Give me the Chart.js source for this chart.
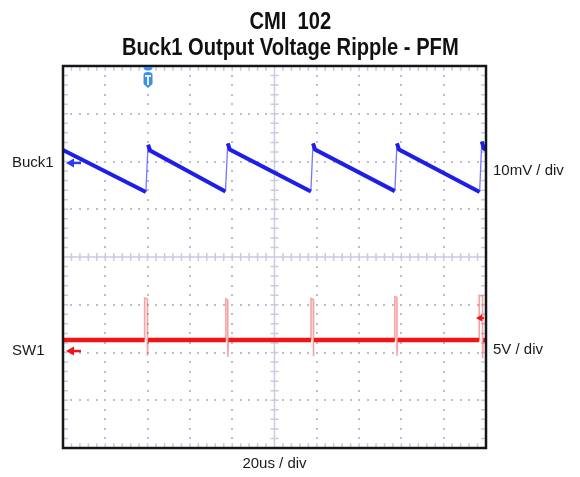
<!DOCTYPE html>
<html>
<head>
<meta charset="utf-8">
<title>CMI 102 - Buck1 Output Voltage Ripple - PFM</title>
<script src="https://cdn.jsdelivr.net/npm/chart.js@4.4.1/dist/chart.umd.min.js"></script>
<style>
  html, body { margin: 0; padding: 0; background: #fff; }
  #wrap { position: relative; width: 580px; height: 477px; }
  #wrap canvas { position: absolute; left: 0; top: 0; }
  .heading {
    position: absolute; left: 0; width: 580px; text-align: center;
    font: bold 24px/26px 'Liberation Sans', Arial, sans-serif; color: #111;
    transform: scaleX(0.84); transform-origin: 292px 0;
    white-space: nowrap;
  }
</style>
</head>
<body>
<div id="wrap">
  <canvas id="scope" width="580" height="477"></canvas>
  <div class="heading" style="top: 8px;">CMI&nbsp; 102</div>
  <div class="heading" style="top: 34px;">Buck1 Output Voltage Ripple - PFM</div>
</div>
<script>
// Screen is 10 x 8 divisions: time in microseconds (20us/div), vertical in divisions
const timeMin = 0;
const timeMax = 200;
const usPerDiv = 20;
const divMin = -4;
const divMax = 4;

// Buck1 output ripple trace (10mV/div), sawtooth in PFM
const buck1Time = [0, 39.2, 40.2, 41.2, 76.8, 77.9, 78.9, 117.2, 118.2, 119.2, 156.9, 157.9, 158.9, 197.0, 198.0, 199.0, 200];
const buck1Div  = [2.24, 1.36, 2.35, 2.23, 1.37, 2.38, 2.25, 1.37, 2.38, 2.25, 1.38, 2.38, 2.25, 1.36, 2.42, 2.27, 2.25];

// SW1 switch node trace (5V/div), flat with a short burst at each PFM pulse
const sw1Base = -1.74;
const sw1Time = [0,
  38.6, 38.6, 39.9, 39.9, 40.2,
  77.0, 77.0, 77.9, 77.9, 78.2,
  117.3, 117.3, 118.3, 118.3, 118.6,
  156.9, 156.9, 157.9, 157.9, 158.2,
  196.8, 196.8, 198.4, 198.4, 198.7,
  200];
const sw1Div = [-1.74,
  -1.74, -0.86, -0.88, -2.07, -1.74,
  -1.74, -0.88, -0.90, -2.09, -1.74,
  -1.74, -0.87, -0.89, -2.08, -1.74,
  -1.74, -0.83, -0.85, -2.07, -1.74,
  -1.74, -0.80, -0.82, -2.12, -1.74,
  -1.74];

// channel names, ground markers and volts/div readouts
const channelNames = ['Buck1', 'SW1'];
const channelLevels = [1.97, -1.97];
const scaleNames = ['10mV / div', '5V / div'];
const scaleLevels = [1.8, -1.94];
const triggerTime = 40.2;
const triggerLevel = -1.28;

const BLUE = '#1e1ee6';
const RED = '#f01414';
const DOT = '#bcbcd6';

function toPoints(xs, ys) {
  return xs.map((x, i) => ({ x: x, y: ys[i] }));
}

function isBurst(c) {
  return Math.abs(c.p0.parsed.y - sw1Base) > 0.02 || Math.abs(c.p1.parsed.y - sw1Base) > 0.02;
}

// dotted graticule with tick-marked centre cross and edge ticks
const graticule = {
  id: 'graticule',
  beforeDatasetsDraw(chart) {
    const { ctx, chartArea: a, scales: { x, y } } = chart;
    ctx.save();
    ctx.fillStyle = DOT;
    for (let i = 1; i < 10; i++) {
      if (i === 5) continue;
      const px = Math.round(x.getPixelForValue(i * usPerDiv));
      for (let j = 1; j < 40; j++) {
        const py = Math.round(y.getPixelForValue(divMin + j * 0.2));
        ctx.fillRect(px - 1, py - 1, 2, 2);
      }
    }
    for (let i = 1; i < 8; i++) {
      if (i === 4) continue;
      const py = Math.round(y.getPixelForValue(divMin + i));
      for (let j = 1; j < 50; j++) {
        const px = Math.round(x.getPixelForValue(j * usPerDiv / 5));
        ctx.fillRect(px - 1, py - 1, 2, 2);
      }
    }

    const cx = x.getPixelForValue((timeMin + timeMax) / 2);
    const cy = y.getPixelForValue(0);
    ctx.strokeStyle = '#cacae2';
    ctx.lineWidth = 1.5;
    ctx.beginPath();
    ctx.moveTo(a.left, cy); ctx.lineTo(a.right, cy);
    ctx.moveTo(cx, a.top); ctx.lineTo(cx, a.bottom);
    // minor ticks on the centre cross and along the frame
    for (let j = 1; j < 50; j++) {
      const px = x.getPixelForValue(j * usPerDiv / 5);
      ctx.moveTo(px, cy - 4); ctx.lineTo(px, cy + 4);
      ctx.moveTo(px, a.top); ctx.lineTo(px, a.top + 5);
      ctx.moveTo(px, a.bottom); ctx.lineTo(px, a.bottom - 5);
    }
    for (let j = 1; j < 40; j++) {
      const py = y.getPixelForValue(divMin + j * 0.2);
      ctx.moveTo(cx - 4, py); ctx.lineTo(cx + 4, py);
      ctx.moveTo(a.left, py); ctx.lineTo(a.left + 5, py);
      ctx.moveTo(a.right, py); ctx.lineTo(a.right - 5, py);
    }
    ctx.stroke();
    ctx.restore();
  },
  afterDatasetsDraw(chart) {
    const { ctx, chartArea: a, scales: { x, y } } = chart;
    ctx.save();
    ctx.strokeStyle = '#161616';
    ctx.lineWidth = 2.5;
    ctx.strokeRect(a.left, a.top, a.right - a.left, a.bottom - a.top);

    // ground arrows on the left edge
    const arrowColors = ['#2a3cf5', RED];
    channelLevels.forEach((lvl, i) => {
      const py = y.getPixelForValue(lvl);
      const x0 = a.left + 3;
      ctx.fillStyle = arrowColors[i];
      ctx.strokeStyle = arrowColors[i];
      ctx.beginPath();
      ctx.moveTo(x0, py);
      ctx.lineTo(x0 + 8, py - 4.5);
      ctx.lineTo(x0 + 8, py + 4.5);
      ctx.closePath();
      ctx.fill();
      ctx.lineWidth = 2.5;
      ctx.beginPath();
      ctx.moveTo(x0 + 7, py);
      ctx.lineTo(x0 + 15, py);
      ctx.stroke();
    });

    // trigger level arrow on the right edge
    const ty = y.getPixelForValue(triggerLevel);
    ctx.fillStyle = RED;
    ctx.beginPath();
    ctx.moveTo(a.right - 10, ty);
    ctx.lineTo(a.right - 4, ty - 3.5);
    ctx.lineTo(a.right - 4, ty + 3.5);
    ctx.closePath();
    ctx.fill();
    ctx.fillRect(a.right - 5, ty - 1, 3, 2);

    // trigger position flag at the top
    const tx = x.getPixelForValue(triggerTime);
    ctx.fillStyle = '#3a8fe8';
    ctx.beginPath();
    ctx.ellipse(tx, a.top + 1, 4.5, 3.5, 0, 0, Math.PI);
    ctx.fill();
    ctx.beginPath();
    ctx.moveTo(tx - 4.5, a.top + 9);
    ctx.quadraticCurveTo(tx - 4.5, a.top + 6, tx, a.top + 6);
    ctx.quadraticCurveTo(tx + 4.5, a.top + 6, tx + 4.5, a.top + 9);
    ctx.lineTo(tx + 4.5, a.top + 18);
    ctx.lineTo(tx, a.top + 22);
    ctx.lineTo(tx - 4.5, a.top + 18);
    ctx.closePath();
    ctx.fill();
    ctx.fillStyle = '#ffffff';
    ctx.fillRect(tx - 3, a.top + 9, 6, 1.8);
    ctx.fillRect(tx - 0.9, a.top + 9, 1.8, 10);
    ctx.restore();
  }
};

const sideFont = { family: "'Liberation Sans', Arial, sans-serif", size: 15 };

new Chart(document.getElementById('scope'), {
  type: 'line',
  data: {
    datasets: [
      {
        label: 'Buck1',
        data: toPoints(buck1Time, buck1Div),
        borderColor: BLUE,
        borderWidth: 4,
        pointRadius: 0,
        tension: 0,
        segment: {
          // the fast rising edge is only faintly traced
          borderWidth: c => c.p1.parsed.y - c.p0.parsed.y > 0.3 ? 1.3 : undefined,
          borderColor: c => c.p1.parsed.y - c.p0.parsed.y > 0.3 ? 'rgba(60,60,255,0.7)' : undefined
        }
      },
      {
        label: 'SW1',
        data: toPoints(sw1Time, sw1Div),
        borderColor: RED,
        borderWidth: 4.5,
        pointRadius: 0,
        tension: 0,
        segment: {
          borderWidth: c => isBurst(c) ? 1.6 : undefined,
          borderColor: c => isBurst(c) ? 'rgba(240,70,70,0.5)' : undefined
        }
      }
    ]
  },
  options: {
    responsive: false,
    animation: false,
    devicePixelRatio: 1,
    layout: { padding: { left: 12, right: 0, top: 66, bottom: 0 } },
    plugins: {
      legend: { display: false },
      tooltip: { enabled: false },
      title: { display: false }
    },
    scales: {
      x: {
        type: 'linear',
        min: timeMin,
        max: timeMax,
        grid: { display: false, drawTicks: false },
        border: { display: false },
        ticks: { display: false },
        title: { display: true, text: '20us / div', color: '#1a1a1a', font: sideFont, padding: { top: 0, bottom: 4 } },
        afterFit: s => { s.height = 29; }
      },
      y: {
        position: 'left',
        min: divMin,
        max: divMax,
        grid: { display: false, drawTicks: false },
        border: { display: false },
        afterBuildTicks: s => { s.ticks = channelLevels.map(v => ({ value: v })); },
        ticks: { callback: (v, i) => channelNames[i], crossAlign: 'far', padding: 0, color: '#1a1a1a', font: sideFont },
        afterFit: s => { s.width = 51; }
      },
      y2: {
        position: 'right',
        min: divMin,
        max: divMax,
        grid: { display: false, drawTicks: false },
        border: { display: false },
        afterBuildTicks: s => { s.ticks = scaleLevels.map(v => ({ value: v })); },
        ticks: { callback: (v, i) => scaleNames[i], crossAlign: 'near', padding: 7, color: '#1a1a1a', font: sideFont },
        afterFit: s => { s.width = 94; }
      }
    }
  },
  plugins: [graticule]
});
</script>
</body>
</html>
